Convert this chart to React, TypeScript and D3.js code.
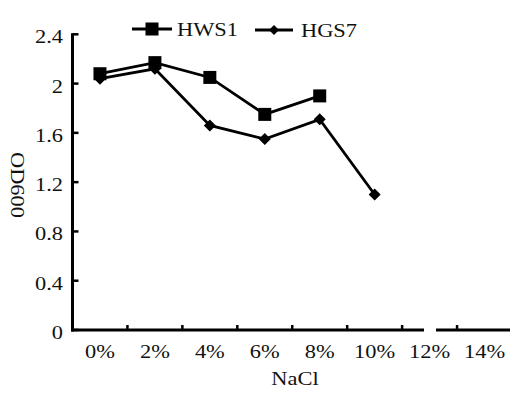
import React from "react";
import * as d3 from "d3";

const categories = ["0%", "2%", "4%", "6%", "8%", "10%", "12%", "14%"];
const hws1Values: (number | null)[] = [2.08, 2.17, 2.05, 1.75, 1.9, null, null, null];
const hgs7Values: (number | null)[] = [2.04, 2.12, 1.66, 1.55, 1.71, 1.1, null, null];
const yTicks = [0, 0.4, 0.8, 1.2, 1.6, 2, 2.4];
const yTickLabels = ["0", "0.4", "0.8", "1.2", "1.6", "2", "2.4"];
const seriesNames = ["HWS1", "HGS7"];

const W = 510;
const H = 394;
const FONT = "'Liberation Serif', 'Times New Roman', serif";
const SX = 1.18;

function T({ x, y, anchor = "start", size = 19, children, rotate = 0 }: any) {
  return (
    <text
      transform={`translate(${x},${y}) rotate(${rotate}) scale(${SX},1)`}
      textAnchor={anchor}
      fontFamily={FONT}
      fontSize={size}
      fill="#111"
    >
      {children}
    </text>
  );
}

export default function App() {
  const x = d3.scaleBand<string>().domain(categories).range([72.5, 512]).padding(0);
  const y = d3.scaleLinear().domain([0, 2.4]).range([330, 34.3]);
  const cx = (c: string) => (x(c) as number) + x.bandwidth() / 2;

  const line = d3
    .line<{ c: string; v: number | null }>()
    .defined((d) => d.v !== null)
    .x((d) => cx(d.c))
    .y((d) => y(d.v as number));

  const hws = categories.map((c, i) => ({ c, v: hws1Values[i] }));
  const hgs = categories.map((c, i) => ({ c, v: hgs7Values[i] }));

  const square = (px: number, py: number, s = 13, key?: any) => (
    <rect key={key} x={px - s / 2} y={py - s / 2} width={s} height={s} fill="#000" />
  );
  const diamond = (px: number, py: number, r = 6, key?: any) => (
    <path key={key} d={`M${px},${py - r}L${px + r},${py}L${px},${py + r}L${px - r},${py}Z`} fill="#000" />
  );

  const x0 = 72.5;
  const y0 = 330;
  const boundaries = categories.map((c) => (x(c) as number) + x.bandwidth());

  return (
    <svg width={W} height={H} style={{ position: "absolute", left: 0, top: 0, background: "#fff" }}>
      {/* axes */}
      <line x1={x0} x2={x0} y1={y(2.4) - 1} y2={y0 + 1.5} stroke="#000" strokeWidth={3} />
      <line x1={x0 - 1.5} x2={424} y1={y0} y2={y0} stroke="#000" strokeWidth={3} />
      <line x1={436} x2={W} y1={y0} y2={y0} stroke="#000" strokeWidth={3} />
      {yTicks.map((t, i) => (
        <g key={"yt" + i}>
          <line x1={x0} x2={x0 + 6} y1={y(t)} y2={y(t)} stroke="#000" strokeWidth={2.5} />
          <T x={63} y={y(t) + 9} anchor="end">
            {yTickLabels[i]}
          </T>
        </g>
      ))}
      {boundaries.map((b, i) => (
        <line key={"xt" + i} x1={b} x2={b} y1={y0} y2={y0 - 5} stroke="#000" strokeWidth={2.5} />
      ))}
      {categories.map((c) => (
        <T key={"xl" + c} x={cx(c)} y={358} anchor="middle">
          {c}
        </T>
      ))}
      <T x={295} y={385} anchor="middle">
        NaCl
      </T>
      <T x={11} y={185} anchor="middle" rotate={90}>
        OD600
      </T>

      {/* series */}
      <path d={line(hws) || ""} fill="none" stroke="#000" strokeWidth={2.8} />
      <path d={line(hgs) || ""} fill="none" stroke="#000" strokeWidth={2.8} />
      {hws.filter((d) => d.v !== null).map((d, i) => square(cx(d.c), y(d.v as number), 13, "s" + i))}
      {hgs.filter((d) => d.v !== null).map((d, i) => diamond(cx(d.c), y(d.v as number), 6, "d" + i))}

      {/* legend */}
      <line x1={132} x2={172} y1={29} y2={29} stroke="#000" strokeWidth={2.8} />
      {square(152, 29, 13)}
      <T x={177} y={36}>
        {seriesNames[0]}
      </T>
      <line x1={255} x2={293} y1={30} y2={30} stroke="#000" strokeWidth={2.8} />
      {diamond(274, 30, 5)}
      <T x={301} y={37}>
        {seriesNames[1]}
      </T>
    </svg>
  );
}
